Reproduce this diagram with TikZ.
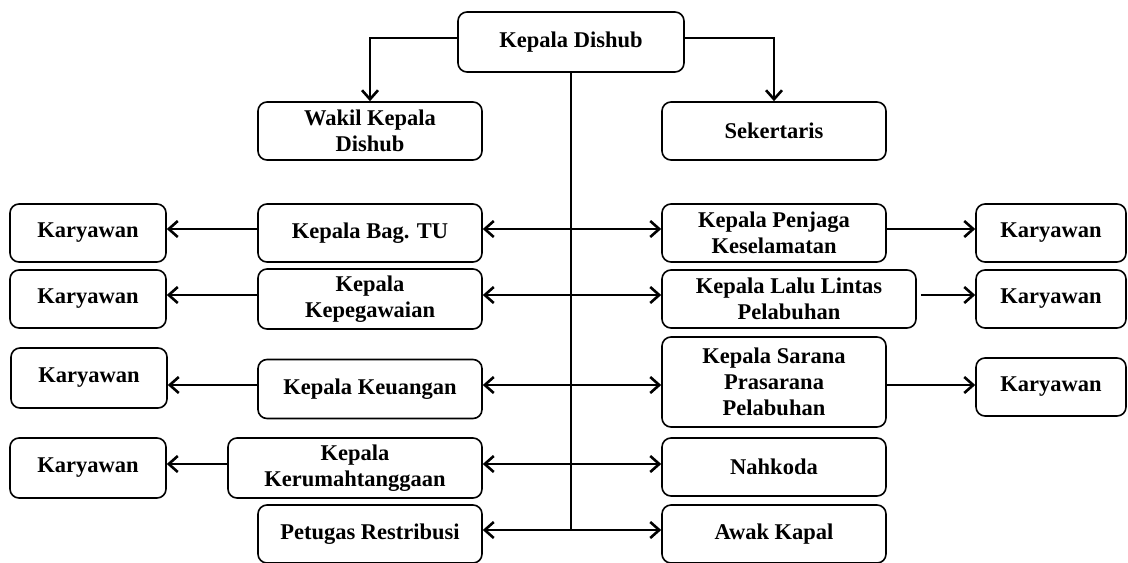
\documentclass[tikz,border=0pt]{standalone}
\usepackage{fontspec}
\setmainfont{Liberation Serif}
\usetikzlibrary{arrows,arrows.meta,positioning}

\begin{document}
\begin{tikzpicture}[x = 0.5pt, y = -0.5pt, line width = 1.3pt,
			>={Straight Barb[length=4.5pt,width=8pt]},
			kotak/.style = {draw, line width = 0.8pt, rounded corners = 4.5pt, align = center,
				font = \bfseries\fontsize{11.25}{13}\selectfont,
				minimum width = 112pt, minimum height = 29pt, inner sep = 2pt},
			kary/.style = {kotak, minimum width = 78pt}]
			\useasboundingbox (0,0) rectangle (1128,562);

			\node[kotak, minimum width = 113pt, minimum height = 30pt] (KD) at (571,42) {Kepala Dishub};
			\node[kotak] (WK) at (370,131) {Wakil Kepala\\Dishub};
			\node[kotak] (SK) at (774,131) {Sekertaris};

			\node[kotak] (TU) at (370,233) {Kepala Bag. TU};
			\node[kotak, minimum height = 30pt] (KP) at (370,299) {Kepala\\Kepegawaian};
			\node[kotak, minimum height = 29.5pt] (KU) at (370,389) {Kepala Keuangan};
			\node[kotak, minimum width = 127pt, minimum height = 30pt] (KR) at (355,468) {Kepala\\Kerumahtanggaan};
			\node[kotak] (PR) at (370,534) {Petugas Restribusi};

			\node[kotak] (PK) at (774,233) {Kepala Penjaga\\Keselamatan};
			\node[kotak, minimum width = 127pt] (LL) at (789,299) {Kepala Lalu Lintas\\Pelabuhan};
			\node[kotak, minimum height = 45pt] (SP) at (774,382) {Kepala Sarana\\Prasarana\\Pelabuhan};
			\node[kotak] (NK) at (774,467) {Nahkoda};
			\node[kotak] (AK) at (774,534) {Awak Kapal};

			\node[kary] (KL1) at (88,233) {Karyawan};
			\node[kary] (KL2) at (88,299) {Karyawan};
			\node[kary, minimum height = 30pt] (KL3) at (89,378) {Karyawan};
			\node[kary, minimum height = 30pt] (KL4) at (88,468) {Karyawan};
			\node[kary, minimum width = 75pt] (KR1) at (1051,233) {Karyawan};
			\node[kary, minimum width = 75pt] (KR2) at (1051,299) {Karyawan};
			\node[kary, minimum width = 75pt] (KR3) at (1051,387) {Karyawan};

			\draw[->] ([yshift=2pt]KD.west) -| (WK.north);
			\draw[->] ([yshift=2pt]KD.east) -| (SK.north);
			\coordinate (ujung) at ([yshift=2pt]PR.east -| KD.south);
			\draw (KD.south) -- (ujung);

			\path ([yshift=2pt]TU.east) edge[<->] ([yshift=2pt]PK.west);
			\path ([yshift=2pt]KP.east) edge[<->] ([yshift=2pt]KP.east -| LL.west);
			\path ([yshift=2pt]KU.east) edge[<->] ([yshift=2pt]KU.east -| SP.west);
			\path ([yshift=2pt]KR.east) edge[<->] ([yshift=2pt]KR.east -| NK.west);
			\path ([yshift=2pt]PR.east) edge[<->] ([yshift=2pt]AK.west);

			\path ([yshift=2pt]TU.west) edge[->] ([yshift=2pt]TU.west -| KL1.east);
			\path ([yshift=2pt]KP.west) edge[->] ([yshift=2pt]KP.west -| KL2.east);
			\path ([yshift=2pt]KU.west) edge[->] ([yshift=2pt]KU.west -| KL3.east);
			\path ([yshift=2pt]KR.west) edge[->] ([yshift=2pt]KR.west -| KL4.east);

			\path ([yshift=2pt]PK.east) edge[->] ([yshift=2pt]PK.east -| KR1.west);
			\path ([yshift=2pt]LL.east) edge[->, shorten <=2pt] ([yshift=2pt]LL.east -| KR2.west);
			\path ([yshift=1pt]KR3.west -| SP.east) edge[->] ([yshift=1pt]KR3.west);

		\end{tikzpicture}
\end{document}
